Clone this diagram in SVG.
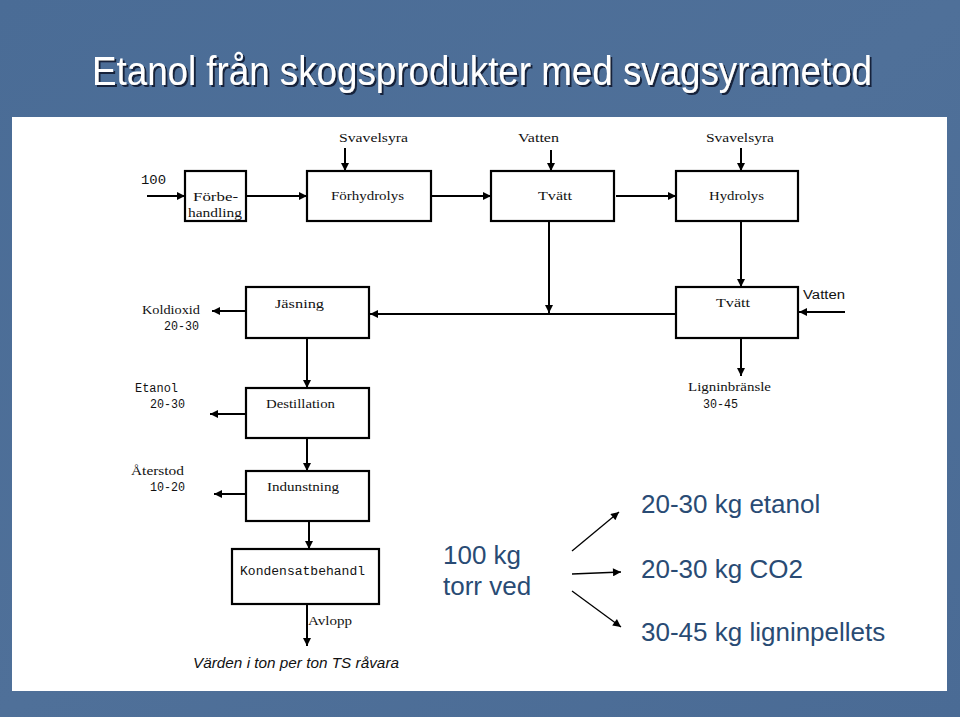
<svg xmlns="http://www.w3.org/2000/svg" width="960" height="717" viewBox="0 0 960 717">
<defs>
<marker id="ah" viewBox="0 0 10 10" refX="10" refY="5" markerWidth="10" markerHeight="8" markerUnits="userSpaceOnUse" orient="auto"><path d="M0,0 L10,5 L0,10 z" fill="#000"/></marker>
<linearGradient id="bg" x1="0" y1="0" x2="1" y2="1"><stop offset="0" stop-color="#4a6c96"/><stop offset="0.5" stop-color="#4f7099"/><stop offset="1" stop-color="#4a6b95"/></linearGradient>
<filter id="sh" x="-5%" y="-20%" width="110%" height="150%"><feDropShadow dx="2" dy="2" stdDeviation="0.6" flood-color="#15243a" flood-opacity="1"/></filter>
</defs>
<style>
.box{fill:#fff;stroke:#000;stroke-width:2.2}
.t{font-family:"Liberation Serif",serif;font-size:12.5px;fill:#111}
.tm{font-family:"Liberation Mono",monospace;font-size:12px;fill:#111}
.c line{stroke:#000;stroke-width:2;fill:none}
.big{font-family:"Liberation Sans",Arial,sans-serif;font-size:26px;fill:#294b74}
.thin line{stroke:#000;stroke-width:1.3}
</style>
<rect x="0" y="0" width="960" height="717" fill="url(#bg)"/>
<rect x="12" y="117" width="935" height="574" fill="#fff"/>
<g id="title">
<text x="92" y="85" font-family="Liberation Sans, Arial, sans-serif" font-size="40" fill="#fff" filter="url(#sh)" textLength="780" lengthAdjust="spacingAndGlyphs">Etanol från skogsprodukter med svagsyrametod</text>
</g>
<g class="c" id="connectors">
<line x1="147" y1="196" x2="185" y2="196" marker-end="url(#ah)"/>
<line x1="246" y1="196" x2="307" y2="196" marker-end="url(#ah)"/>
<line x1="345" y1="148" x2="345" y2="171" marker-end="url(#ah)"/>
<line x1="431" y1="196" x2="491" y2="196" marker-end="url(#ah)"/>
<line x1="551" y1="150" x2="551" y2="171" marker-end="url(#ah)"/>
<line x1="616" y1="196" x2="676" y2="196" marker-end="url(#ah)"/>
<line x1="741" y1="148" x2="741" y2="171" marker-end="url(#ah)"/>
<line x1="549" y1="221" x2="549" y2="313" marker-end="url(#ah)"/>
<line x1="741" y1="221" x2="741" y2="287" marker-end="url(#ah)"/>
<line x1="845" y1="312" x2="799" y2="312" marker-end="url(#ah)"/>
<line x1="676" y1="314" x2="370" y2="314" marker-end="url(#ah)"/>
<line x1="246" y1="311" x2="212" y2="311" marker-end="url(#ah)"/>
<line x1="307" y1="338" x2="307" y2="388" marker-end="url(#ah)"/>
<line x1="246" y1="414" x2="210" y2="414" marker-end="url(#ah)"/>
<line x1="307" y1="438" x2="307" y2="471" marker-end="url(#ah)"/>
<line x1="246" y1="494" x2="214" y2="494" marker-end="url(#ah)"/>
<line x1="309" y1="521" x2="309" y2="549" marker-end="url(#ah)"/>
<line x1="307" y1="604" x2="307" y2="646" marker-end="url(#ah)"/>
<line x1="741" y1="338" x2="741" y2="376" marker-end="url(#ah)"/>
</g>
<g class="thin" id="summary-arrows">
<line x1="572" y1="551" x2="619" y2="512" marker-end="url(#ah)"/>
<line x1="572" y1="574" x2="621" y2="572" marker-end="url(#ah)"/>
<line x1="572" y1="591" x2="621" y2="627" marker-end="url(#ah)"/>
</g>
<g id="forbehandling"><rect class="box" x="185" y="171" width="61" height="50"/><text class="t" x="193" y="201" textLength="45" lengthAdjust="spacingAndGlyphs">Förbe-</text><text class="t" x="188" y="217" textLength="54" lengthAdjust="spacingAndGlyphs">handling</text></g>
<g id="forhydrolys"><rect class="box" x="307" y="171" width="124" height="50"/><text class="t" x="331" y="200" textLength="73" lengthAdjust="spacingAndGlyphs">Förhydrolys</text></g>
<g id="tvatt1"><rect class="box" x="491" y="171" width="123" height="50"/><text class="t" x="538" y="200" textLength="34" lengthAdjust="spacingAndGlyphs">Tvätt</text></g>
<g id="hydrolys"><rect class="box" x="676" y="171" width="122" height="50"/><text class="t" x="709" y="200" textLength="55" lengthAdjust="spacingAndGlyphs">Hydrolys</text></g>
<g id="tvatt2"><rect class="box" x="676" y="287" width="122" height="51"/><text class="t" x="716" y="307" textLength="34" lengthAdjust="spacingAndGlyphs">Tvätt</text></g>
<g id="jasning"><rect class="box" x="246" y="287" width="123" height="51"/><text class="t" x="275" y="308" textLength="49" lengthAdjust="spacingAndGlyphs">Jäsning</text></g>
<g id="destillation"><rect class="box" x="246" y="388" width="123" height="50"/><text class="t" x="266" y="408" textLength="69" lengthAdjust="spacingAndGlyphs">Destillation</text></g>
<g id="indunstning"><rect class="box" x="246" y="471" width="123" height="50"/><text class="t" x="267" y="491" textLength="72" lengthAdjust="spacingAndGlyphs">Indunstning</text></g>
<g id="kondensat"><rect class="box" x="232" y="549" width="147" height="55"/><text class="tm" x="240" y="575" textLength="125" lengthAdjust="spacingAndGlyphs">Kondensatbehandl</text></g>
<g id="labels">
<text class="tm" x="141" y="184" textLength="25" lengthAdjust="spacingAndGlyphs">100</text>
<text class="t" x="339" y="142" textLength="69" lengthAdjust="spacingAndGlyphs">Svavelsyra</text>
<text class="t" x="518" y="142" textLength="41" lengthAdjust="spacingAndGlyphs">Vatten</text>
<text class="t" x="706" y="142" textLength="68" lengthAdjust="spacingAndGlyphs">Svavelsyra</text>
<text x="803" y="299" font-family="Liberation Sans, Arial, sans-serif" font-size="12.5" fill="#111" textLength="42" lengthAdjust="spacingAndGlyphs">Vatten</text>
<text class="t" x="142" y="314" textLength="58" lengthAdjust="spacingAndGlyphs">Koldioxid</text>
<text class="tm" x="164" y="330" textLength="35" lengthAdjust="spacingAndGlyphs">20-30</text>
<text class="tm" x="135" y="392" textLength="43" lengthAdjust="spacingAndGlyphs">Etanol</text>
<text class="tm" x="150" y="408" textLength="35" lengthAdjust="spacingAndGlyphs">20-30</text>
<text class="t" x="131" y="475" textLength="53" lengthAdjust="spacingAndGlyphs">Återstod</text>
<text class="tm" x="150" y="491" textLength="35" lengthAdjust="spacingAndGlyphs">10-20</text>
<text class="t" x="308" y="625" textLength="44" lengthAdjust="spacingAndGlyphs">Avlopp</text>
<text class="t" x="688" y="391" textLength="83" lengthAdjust="spacingAndGlyphs">Ligninbränsle</text>
<text class="tm" x="703" y="408" textLength="35" lengthAdjust="spacingAndGlyphs">30-45</text>
<text x="193" y="668" font-family="Liberation Sans, Arial, sans-serif" font-size="14" font-style="italic" fill="#111" textLength="206" lengthAdjust="spacingAndGlyphs">Värden i ton per ton TS råvara</text>
</g>
<g id="summary">
<text class="big" x="443" y="564">100 kg</text>
<text class="big" x="443" y="595">torr ved</text>
<text class="big" x="641" y="513">20-30 kg etanol</text>
<text class="big" x="641" y="578">20-30 kg CO2</text>
<text class="big" x="641" y="641">30-45 kg ligninpellets</text>
</g>
</svg>
